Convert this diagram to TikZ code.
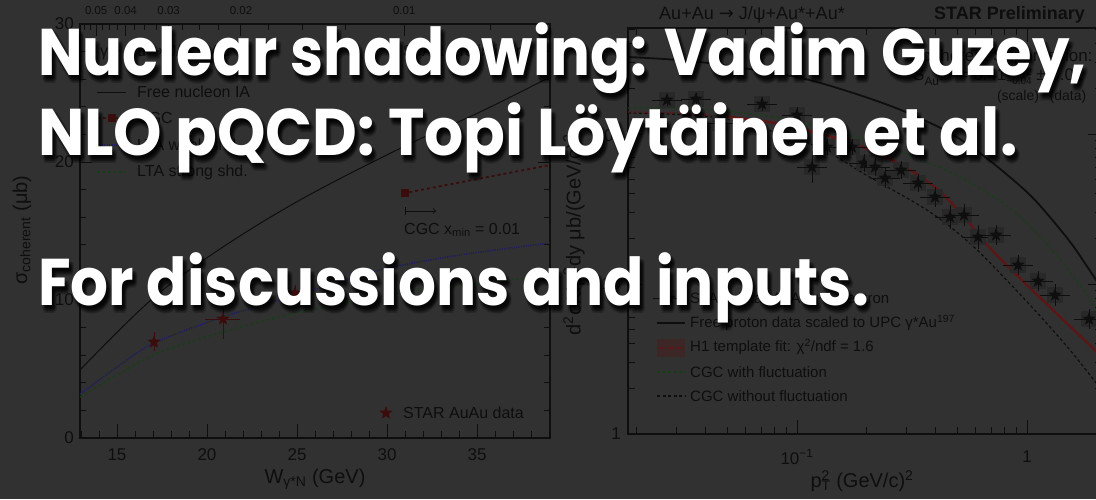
\documentclass[tikz,border=0pt]{standalone}
\usepackage{fontspec}
\setmainfont{Liberation Sans}
\newfontfamily\titlefont{Poppins}
\newfontfamily\symfont{DejaVu Sans}
\usetikzlibrary{shapes.geometric}

\definecolor{bg}{RGB}{49,49,49}
\definecolor{ink}{RGB}{14,14,14}
\definecolor{dred}{RGB}{58,12,12}
\definecolor{fitred}{RGB}{92,22,22}
\definecolor{dblue}{RGB}{30,30,95}
\definecolor{dgreen}{RGB}{24,62,24}
\definecolor{sysbox}{RGB}{40,40,40}
\definecolor{fitband}{RGB}{60,38,38}

% headline texts, each squeezed to its line length
\newcommand\hlone{\scalebox{0.898}[1]{Nuclear shadowing: Vadim Guzey,}}
\newcommand\hltwo{\scalebox{0.934}[1]{NLO pQCD: Topi Löytäinen et al.}}
\newcommand\hlthree{\scalebox{0.903}[1]{For discussions and inputs.}}

\begin{document}
\begin{tikzpicture}[x=1pt,y=-1pt,
  tk/.style={draw=ink, line width=1pt},
  plotframe/.style={draw=ink, line width=1.6pt},
  lbl/.style={text=ink, font=\fontsize{17}{17}\selectfont, inner sep=0},
  small/.style={text=ink, font=\fontsize{11.5}{12}\selectfont, inner sep=0},
  leg/.style={text=ink, font=\fontsize{16}{16}\selectfont, inner sep=0, anchor=west},
  legr/.style={text=ink, font=\fontsize{15}{15}\selectfont, inner sep=0, anchor=west},
  axtitle/.style={text=ink, font=\fontsize{20}{20}\selectfont, inner sep=0},
  hl/.style={text=white, font=\titlefont\bfseries\fontsize{66}{66}\selectfont, inner sep=0, anchor=base west},
  shd/.style={hl, text=black, opacity=0.11},
  starmark/.style={star, star points=5, star point ratio=2.4, fill=ink, draw=none, minimum size=14pt, inner sep=0},
  redstar/.style={starmark, fill=dred},
  errbar/.style={draw=ink, line width=0.9pt},
]
\fill[bg] (0,0) rectangle (1096,499);
\useasboundingbox (0,0) rectangle (1096,499);

% ================= left plot: coherent cross section vs W =================
\draw[plotframe] (80,24) rectangle (550,438);
% bottom W ticks
\foreach \w in {13,...,39}{
  \pgfmathsetmacro\xx{117+18*(\w-15)}
  \pgfmathsetmacro\len{mod(\w,5)==0 ? 14 : 7}
  \draw[tk] (\xx,438) -- ++(0,-\len);
}
% top x ticks (x = (M/W)^2)
\foreach \k in {3,...,22}{
  \pgfmathsetmacro\xx{117+18*(3.097/sqrt(0.0025*\k)-15)}
  \pgfmathsetmacro\len{mod(\k,4)==0 ? 12 : 6}
  \draw[tk] (\xx,24) -- ++(0,\len);
}
\foreach \val/\k in {0.05/20,0.04/16,0.03/12,0.02/8,0.01/4}{
  \pgfmathsetmacro\xx{117+18*(3.097/sqrt(0.0025*\k)-15)}
  \node[small] (top\k) at (\xx,11) {\val};
}
% sigma ticks on both sides
\foreach \v in {2,4,...,28}{
  \pgfmathsetmacro\yy{438-13.8*\v}
  \pgfmathsetmacro\len{mod(\v,10)==0 ? 12 : 6}
  \draw[tk] (80,\yy) -- ++(\len,0);
  \draw[tk] (550,\yy) -- ++(-\len,0);
}
\foreach \v in {0,10,20,30}{
  \pgfmathsetmacro\yy{438-13.8*\v}
  \node[lbl, anchor=east] (ly\v) at (74,\yy) {\v};
}
\foreach \w in {15,20,25,30,35}{
  \pgfmathsetmacro\xx{117+18*(\w-15)}
  \node[lbl] (lx\w) at (\xx,455) {\w};
}
\node[axtitle] (lxt) at (315,479) {W\textsubscript{γ*N} (GeV)};
\node[axtitle, rotate=90] (lyt) at (22,230) {σ\textsubscript{coherent}  (μb)};

% header row
\node[leg] (lhead) at (100,52) {γ + Au {\symfont →} J/ψ + Au};
\node[leg] (lstar) at (403,52) {STAR Preliminary};

% model curves
\draw[ink, line width=1pt] plot[smooth, tension=0.6] coordinates {(80,370) (151,300) (217,251) (300,200) (403,147) (480,112) (550,77)};
\draw[dblue, line width=1.6pt, dash pattern=on 1.2pt off 1.2pt] plot[smooth] coordinates {(80,394) (120,365) (154,343) (223,317) (300,294) (380,270) (460,255) (550,243)};
\draw[dgreen, line width=1.6pt, dash pattern=on 2.5pt off 3pt] plot[smooth] coordinates {(80,397) (154,355) (223,332) (300,312) (400,293) (480,283) (550,276)};
\node[draw=none, fill=dred, minimum size=8pt, inner sep=0] (cgcsq) at (405,193) {};
\coordinate (cgcend) at (550,165);
\draw[dred, line width=1.8pt, dash pattern=on 3pt off 3pt] (cgcsq) -- (cgcend);
\coordinate (arrs) at (405,211);
\coordinate (arre) at (436,211);
\draw[ink, line width=1pt, |->] (arrs) -- (arre);
\node[leg] (cgcx) at (404,230) {CGC x\textsubscript{min} = 0.01};

% STAR points
\draw[draw=dred, line width=0.9pt] (154,332) -- (154,351);
\node[redstar] (s1) at (154,342) {};
\draw[draw=dred, line width=0.9pt] (223,308) -- (223,339) (205,319) -- (240,319);
\node[redstar] (s2) at (223,319) {};
\draw[draw=dred, line width=0.9pt] (295,285) -- (295,301);
\node[redstar] (s3) at (295,293) {};

% legend
\coordinate (la1) at (97,92);  \coordinate (lb1) at (126,92);
\draw[ink, line width=1pt] (la1) -- (lb1);
\node[leg] (lg1) at (137,92) {Free nucleon IA};
\coordinate (la2) at (97,118); \coordinate (lb2) at (126,118);
\draw[dred, line width=1.8pt, dash pattern=on 3pt off 3pt] (la2) -- (lb2);
\node[draw=none, fill=dred, minimum size=8pt, inner sep=0] (lgsq) at (112,118) {};
\node[leg] (lg2) at (137,118) {CGC};
\coordinate (la3) at (97,145); \coordinate (lb3) at (126,145);
\draw[dblue, line width=1.6pt, dash pattern=on 1.2pt off 1.2pt] (la3) -- (lb3);
\node[leg] (lg3) at (137,145) {LTA weak shd.};
\coordinate (la4) at (97,172); \coordinate (lb4) at (126,172);
\draw[dgreen, line width=1.6pt, dash pattern=on 2.5pt off 3pt] (la4) -- (lb4);
\node[leg] (lg4) at (137,172) {LTA strong shd.};
\node[redstar] (lgstar) at (386,413) {};
\node[leg] (lg5) at (403,413) {STAR AuAu data};

% ================= right plot: t-spectrum =================
\draw[plotframe] (628,28) rectangle (1102,434);
\foreach \e in {-2,-1,0}{
  \foreach \m in {1,...,9}{
    \pgfmathsetmacro\xx{1027+230*(\e+log10(\m))}
    \pgfmathsetmacro\len{\m==1 ? 14 : 7}
    \ifdim\xx pt>629pt\relax
      \ifdim\xx pt<1096pt\relax
        \draw[tk] (\xx,434) -- ++(0,-\len);
        \draw[tk] (\xx,28) -- ++(0,\len);
      \fi
    \fi
  }
}
\foreach \e in {0,1,2}{
  \foreach \m in {1,...,9}{
    \pgfmathsetmacro\yy{434-150*(\e+log10(\m))}
    \pgfmathsetmacro\len{\m==1 ? 14 : 7}
    \ifdim\yy pt>29pt\relax
      \draw[tk] (628,\yy) -- ++(\len,0);
      \draw[tk] (1102,\yy) -- ++(-\len,0);
    \fi
  }
}
\node[lbl, anchor=east] (ry0) at (621,434) {1};
\node[lbl, anchor=east] (ry1) at (621,284) {10};
\node[lbl, anchor=east] (ry2) at (621,134) {10\textsuperscript{2}};
\node[lbl] (rx0) at (797,457) {10\textsuperscript{−1}};
\node[lbl] (rx1) at (1027,457) {1};
\node[axtitle] (rxt) at (862,481) {p\rlap{\textsuperscript{2}}\textsubscript{T} (GeV/c)\textsuperscript{2}};
\node[axtitle, rotate=90] (ryt) at (574,235) {d\textsuperscript{2}σ/dp\rlap{\textsuperscript{2}}\textsubscript{T}dy  μb/(GeV/c)\textsuperscript{2}};

\node[lbl, font=\fontsize{18}{18}\selectfont] (rtitle) at (752,15) {Au+Au {\symfont →} J/ψ+Au*+Au*};
\node[lbl, font=\bfseries\fontsize{18}{18}\selectfont, anchor=west] (rstar) at (934,15) {STAR Preliminary};

% curves
\draw[ink, line width=1.8pt] plot[smooth] coordinates {(628,57) (700,62) (796,77) (850,92) (901,110) (950,133) (989,160) (1030,195) (1059,228) (1076,250) (1100,286)};
\draw[dgreen, line width=1.2pt, dash pattern=on 3pt off 2.5pt] plot[smooth] coordinates {(628,108) (700,109) (780,118) (866,140) (950,172) (1010,208) (1052,250) (1080,285) (1100,315)};
\draw[ink, line width=1.2pt, dash pattern=on 3pt off 2.5pt] plot[smooth] coordinates {(628,113) (720,118) (813,145) (866,175) (930,212) (975,248) (1030,305) (1070,350) (1100,388)};
\draw[fitred, line width=1.4pt, dash pattern=on 1.3pt off 1.3pt] plot[smooth] coordinates {(628,112) (680,113) (720,116)};
\draw[fitred, line width=2.4pt] plot[smooth] coordinates {(720,116) (780,124) (852,143) (901,165) (936,188) (965,218) (990,248) (1030,288) (1100,355)};

% data points with systematic boxes and error bars
\foreach \px/\py/\ey [count=\i] in {667/100/6, 696/99/6, 720/123/8, 762/104/7, 797/115/8, 812/167/16, 827/147/8, 852/147/8, 864/163/9, 875/167/9, 885/178/10, 901/170/9, 918/183/9, 935/197/10, 950/217/12, 964/215/11, 978/237/12, 996/235/10, 1018/265/10, 1038/281/10, 1055/295/11, 1089/319/10}{
  \fill[sysbox] (\px-8,\py-8) rectangle (\px+8,\py+8);
  \draw[errbar] (\px,\py-\ey) -- (\px,\py+\ey) (\px-15,\py) -- (\px+15,\py);
  \node[starmark] (d\i) at (\px,\py) {};
}

% legend
\fill[sysbox] (661,290) rectangle (677,306);
\node[starmark] (rl1s) at (669,298) {};
\coordinate (rla1) at (653,298); \coordinate (rlb1) at (685,298);
\draw[errbar] (rla1) -- (rlb1);
\node[legr] (rl1) at (690,298) {STAR data: AuAu + 1 neutron};
\coordinate (rla2) at (657,323); \coordinate (rlb2) at (685,323);
\draw[ink, line width=1.8pt] (rla2) -- (rlb2);
\node[legr] (rl2) at (690,323) {Free proton data scaled to UPC γ*Au\textsuperscript{197}};
\node[fill=fitband, draw=none, minimum width=28pt, minimum height=18pt, inner sep=0] (rlbox) at (671,348) {};
\draw[fitred, line width=1.2pt, dash pattern=on 1.3pt off 1.3pt] (rlbox.west) -- (rlbox.east);
\node[legr] (rl3) at (690,347) {H1 template fit: χ\textsuperscript{2}/ndf = 1.6};
\coordinate (rla4) at (657,372); \coordinate (rlb4) at (685,372);
\draw[dgreen, line width=1.2pt, dash pattern=on 3pt off 2.5pt] (rla4) -- (rlb4);
\node[legr] (rl4) at (690,372) {CGC with fluctuation};
\coordinate (rla5) at (657,396); \coordinate (rlb5) at (685,396);
\draw[ink, line width=1.2pt, dash pattern=on 3pt off 2.5pt] (rla5) -- (rlb5);
\node[legr] (rl5) at (690,396) {CGC without fluctuation};

% suppression factor
\node[legr, font=\fontsize{17}{17}\selectfont] (supp) at (908,57) {Incoherent Suppression:};
\node[legr, font=\fontsize{17}{17}\selectfont] (sval) at (913,77) {S\textsubscript{Au\textsuperscript{197}} = 0.41\raisebox{-0.45ex}{\shortstack[l]{\fontsize{10}{10}\selectfont +0.02\\[-1pt]\fontsize{10}{10}\selectfont −0.04}} ± 0.01};
\node[lbl, font=\fontsize{14}{14}\selectfont] (sscale) at (1018,97) {(scale)};
\node[lbl, font=\fontsize{14}{14}\selectfont] (sdata) at (1068,97) {(data)};

% ================= overlay headline text with drop shadow =================
\foreach \dx/\dy in {3/4, 2/5, 4/5, 3/6, 1/4, 5/4, 3/3, 2/3, 4/3, 3/7, 5/6, 1/6, 4/8, 2/8}{
  \node[shd] at (38+\dx,75+\dy) {\hlone};
  \node[shd] at (38+\dx,155+\dy) {\hltwo};
  \node[shd] at (38+\dx,305+\dy) {\hlthree};
}
\node[hl] (line1) at (38,75) {\hlone};
\node[hl] (line2) at (38,155) {\hltwo};
\node[hl] (line3) at (38,305) {\hlthree};
\end{tikzpicture}
\end{document}
